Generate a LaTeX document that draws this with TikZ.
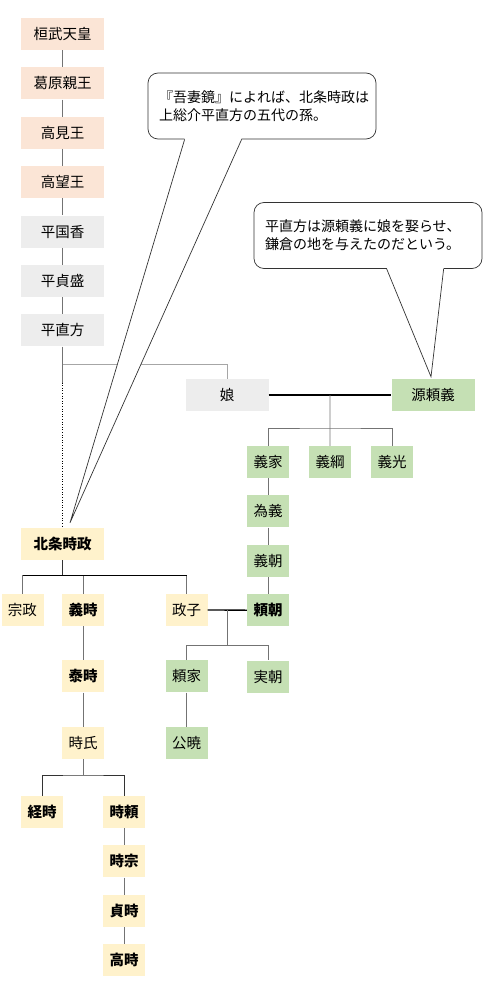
\documentclass[tikz,border=0pt]{standalone}
\usepackage{fontspec}
\setmainfont{Noto Sans CJK JP}
\usepackage{xcolor}
\usepackage{tikz}
\usetikzlibrary{positioning, calc}

\definecolor{peach}{HTML}{FBE5D6}
\definecolor{taigray}{HTML}{EDEDED}
\definecolor{genjigreen}{HTML}{C5E0B4}
\definecolor{hojoyellow}{HTML}{FFF2CC}

\begin{document}
\begin{tikzpicture}[
  x=1pt, y=-1pt,
  node distance=17pt,
  every node/.style={font=\fontsize{14.5}{17}\selectfont},
  person/.style={
    rectangle, inner sep=1pt,
    minimum width=83pt, minimum height=32pt,
    align=center,
  },
  small/.style={person, minimum width=42pt},
  royal/.style={fill=peach},
  taira/.style={fill=taigray},
  genji/.style={fill=genjigreen},
  hojo/.style={fill=hojoyellow},
  heir/.style={font=\fontsize{14.5}{17}\selectfont\bfseries},
  kin/.style={draw=black!55, line width=0.8pt},
  faint/.style={draw=black!35, line width=0.8pt},
  wed/.style={draw=black, line width=1.3pt},
  note/.style={
    rectangle, rounded corners=10pt,
    draw=black!80, line width=0.7pt, fill=white,
    minimum width=228pt, minimum height=66pt,
    text width=206pt, inner xsep=11pt, align=left,
    font=\fontsize{14}{18}\selectfont,
  },
  tail/.style={draw=black!80, line width=0.7pt},
]
  \useasboundingbox (0,0) rectangle (496,1000);

  % imperial line and Taira
  \node[person, royal] (kanmu) at (62.5,34) {桓武天皇};
  \node[person, royal, below=of kanmu] (kazurahara) {葛原親王};
  \node[person, royal, below=of kazurahara] (takami) {高見王};
  \node[person, royal, below=of takami] (takamochi) {高望王};
  \node[person, taira, below=of takamochi] (kunika) {平国香};
  \node[person, taira, below=of kunika] (sadamori) {平貞盛};
  \node[person, taira, below=of sadamori] (naokata) {平直方};

  \draw[kin] (kanmu) -- (kazurahara);
  \draw[kin] (kazurahara) -- (takami);
  \draw[kin] (takami) -- (takamochi);
  \draw[kin] (takamochi) -- (kunika);
  \draw[kin] (kunika) -- (sadamori);
  \draw[kin] (sadamori) -- (naokata);

  % Seiwa Genji
  \node[person, taira] (musume) at (227,395) {娘};
  \node[person, genji] (yoriyoshi) at (433,395) {源頼義};
  \node[small, genji] (yoshiie) at (268,462) {義家};
  \node[small, genji] (yoshitsuna) at (330,462) {義綱};
  \node[small, genji] (yoshimitsu) at (392,462) {義光};
  \node[small, genji, below=of yoshiie] (tameyoshi) {為義};
  \node[small, genji, below=of tameyoshi] (yoshitomo) {義朝};
  \node[small, genji, below=of yoshitomo, heir] (yoritomo) {頼朝};

  \coordinate (split) at ($(naokata.south)+(0,18)$);
  \coordinate (gap) at ($(naokata.south)+(0,36)$);
  \draw[kin] (naokata) -- (gap);
  \draw[faint] (split) -| (musume.north);

  \draw[wed] (musume) -- (yoriyoshi);
  \coordinate (wed1) at ($(musume.east)!0.5!(yoriyoshi.west)$);
  \coordinate (bar1) at ($(wed1)+(0,33)$);
  \draw[kin] (wed1) -- (bar1) -- (yoshitsuna.north);
  \draw[kin] (yoshiie.north) |- (bar1) -| (yoshimitsu.north);
  \draw[kin] (yoshiie) -- (tameyoshi);
  \draw[kin] (tameyoshi) -- (yoshitomo);
  \draw[kin] (yoshitomo) -- (yoritomo);

  % Hojo
  \node[person, hojo, heir] (tokimasa) at (62.5,544) {北条時政};
  \node[small, hojo] (munemasa) at (22.5,610) {宗政};
  \node[small, hojo, heir] (yoshitoki) at (83,610) {義時};
  \node[small, hojo] (masako) at (186.5,610) {政子};
  \node[small, hojo, heir, below=34pt of yoshitoki] (yasutoki) {泰時};
  \node[small, hojo, below=34pt of yasutoki] (tokiuji) {時氏};
  \node[small, hojo, heir] (tsunetoki) at (42,812) {経時};
  \node[small, hojo, heir] (tokiyori) at (124,812) {時頼};
  \node[small, hojo, heir, below=of tokiyori] (tokimune) {時宗};
  \node[small, hojo, heir, below=of tokimune] (sadatoki) {貞時};
  \node[small, hojo, heir, below=of sadatoki] (takatoki) {高時};

  \node[small, genji, below=34pt of masako] (yoriie) {頼家};
  \node[small, genji, below=34pt of yoritomo] (sanetomo) {実朝};
  \node[small, genji, below=34pt of yoriie] (kugyo) {公暁};

  \draw[black, line width=0.6pt, dotted] (gap) -- (tokimasa.north);

  \coordinate (bar2) at ($(tokimasa.south)+(0,15)$);
  \draw[kin, draw=black!80] (tokimasa) -- (bar2);
  \draw[kin] (munemasa.north) -- (munemasa.north |- bar2);
  \draw[kin] (yoshitoki.north) -- (yoshitoki.north |- bar2);
  \draw[kin] (masako.north) -- (masako.north |- bar2);
  \draw[black, line width=1pt] (munemasa.north |- bar2) -- (masako.north |- bar2);

  \draw[kin] (yoshitoki) -- (yasutoki);
  \draw[kin] (yasutoki) -- (tokiuji);
  \coordinate (bar4) at ($(tokiuji.south)+(0,16)$);
  \draw[kin] (tokiuji) -- (bar4);
  \draw[kin, draw=black!80] (tsunetoki.north) |- (bar4) -| (tokiyori.north);
  \draw[kin] (tokiyori) -- (tokimune);
  \draw[kin] (tokimune) -- (sadatoki);
  \draw[kin] (sadatoki) -- (takatoki);

  \draw[wed] (masako) -- (yoritomo);
  \coordinate (wed2) at ($(masako.east)!0.5!(yoritomo.west)$);
  \coordinate (bar3) at ($(wed2)+(0,35)$);
  \draw[kin] (wed2) -- (bar3);
  \draw[kin] (yoriie.north) |- (bar3) -| (sanetomo.north);
  \draw[kin] (yoriie) -- (kugyo);

  % callouts
  \node[note] (note1) at (262,106) {『吾妻鏡』によれば、北条時政は\\上総介平直方の五代の孫。};
  \coordinate (tip1) at ($(tokimasa.north)+(7.5,-5)$);
  \fill[white] ($(note1.south west)+(37,-1.2)$) -- (tip1) -- ($(note1.south west)+(94,-1.2)$) -- cycle;
  \draw[tail] ($(note1.south west)+(37,0)$) -- (tip1) -- ($(note1.south west)+(94,0)$);

  \node[note] (note2) at (368,235.5) {平直方は源頼義に娘を娶らせ、\\鎌倉の地を与えたのだという。};
  \coordinate (tip2) at ($(yoriyoshi.north)+(-2,-2)$);
  \fill[white] ($(note2.south west)+(133,-1.2)$) -- (tip2) -- ($(note2.south west)+(190,-1.2)$) -- cycle;
  \draw[tail] ($(note2.south west)+(133,0)$) -- (tip2) -- ($(note2.south west)+(190,0)$);
\end{tikzpicture}
\end{document}
